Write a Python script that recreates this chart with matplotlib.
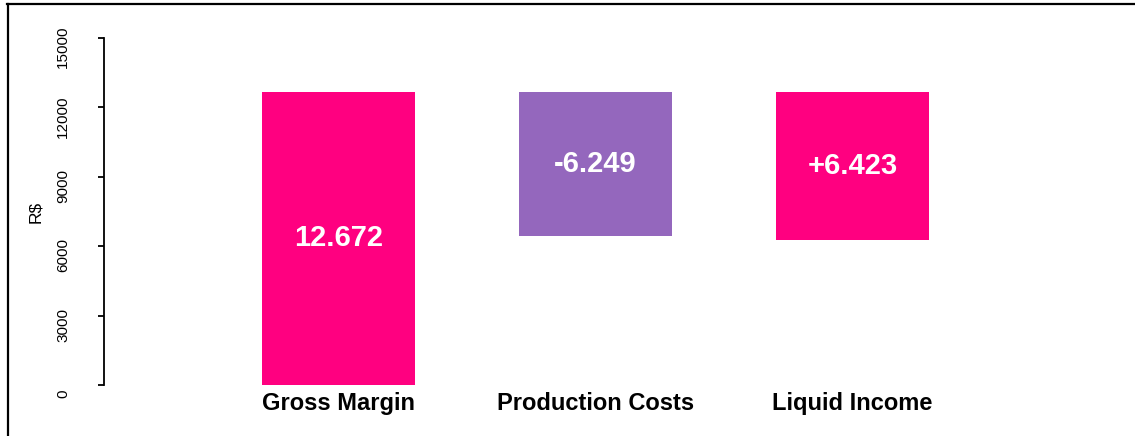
import matplotlib.pyplot as plt
from matplotlib.lines import Line2D
from matplotlib.transforms import ScaledTranslation

#--- Data
categories = ["Gross Margin", "Production Costs", "Liquid Income"]
bar_bottom = [0, 6423, 6249]
bar_top = [12672, 12672, 12672]
bar_labels = ["12.672", "-6.249", "+6.423"]
bar_colors = ["#FF0080", "#9467BD", "#FF0080"]
yticks = [0, 3000, 6000, 9000, 12000, 15000]

W, H = 1135, 436
fig = plt.figure(figsize=(W / 100, H / 100), dpi=100)
plt.rcParams['font.family'] = ['Liberation Sans', 'DejaVu Sans']

# axes placed in pixel terms: y axis at x=104, y=0 at 385 px, 15000 at 38 px
ax_left, ax_right, ax_bot, ax_top = 104, 1135, 385, 38
ax = fig.add_axes([ax_left / W, (H - ax_bot) / H, (ax_right - ax_left) / W, (ax_bot - ax_top) / H])

x = list(range(len(categories)))
heights = [t - b for t, b in zip(bar_top, bar_bottom)]
ax.bar(x, heights, bottom=bar_bottom, width=0.595, color=bar_colors, linewidth=0)

for xi, b, h, lab in zip(x, bar_bottom, heights, bar_labels):
    ax.text(xi, b + h / 2, lab, color="white", fontsize=21, fontweight="bold",
            ha="center", va="center")

px_per_unit = 257
ax.set_xlim(-(338.5 - ax_left) / px_per_unit, -(338.5 - ax_left) / px_per_unit + (ax_right - ax_left) / px_per_unit)
ax.set_ylim(0, 15000)

for s in ["top", "right", "bottom"]:
    ax.spines[s].set_visible(False)
ax.spines["left"].set_linewidth(1.3)

ax.set_xticks(x)
ax.set_xticklabels(categories, fontsize=17, fontweight="bold")
ax.tick_params(axis="x", length=0, pad=5)

ax.set_yticks(yticks)
ax.set_yticklabels([str(v) for v in yticks], fontsize=11, rotation=90, va="center")
ax.tick_params(axis="y", length=4.5, width=1.3, pad=20)
for lbl in ax.get_yticklabels():
    lbl.set_transform(lbl.get_transform() + ScaledTranslation(0, -6.5 / 72, fig.dpi_scale_trans))

ax.text(-(ax_left - 36) / (ax_right - ax_left), 0.5, "R$", transform=ax.transAxes,
        rotation=90, ha="center", va="center", fontsize=12.5)

# partial frame round the figure (top and left edges only)
fig.add_artist(Line2D([7 / W, 1], [1 - 4.5 / H, 1 - 4.5 / H], color="black", lw=1.6, transform=fig.transFigure))
fig.add_artist(Line2D([7.5 / W, 7.5 / W], [0, 1 - 4.5 / H], color="black", lw=1.6, transform=fig.transFigure))

fig.savefig("out.png", dpi=100)
